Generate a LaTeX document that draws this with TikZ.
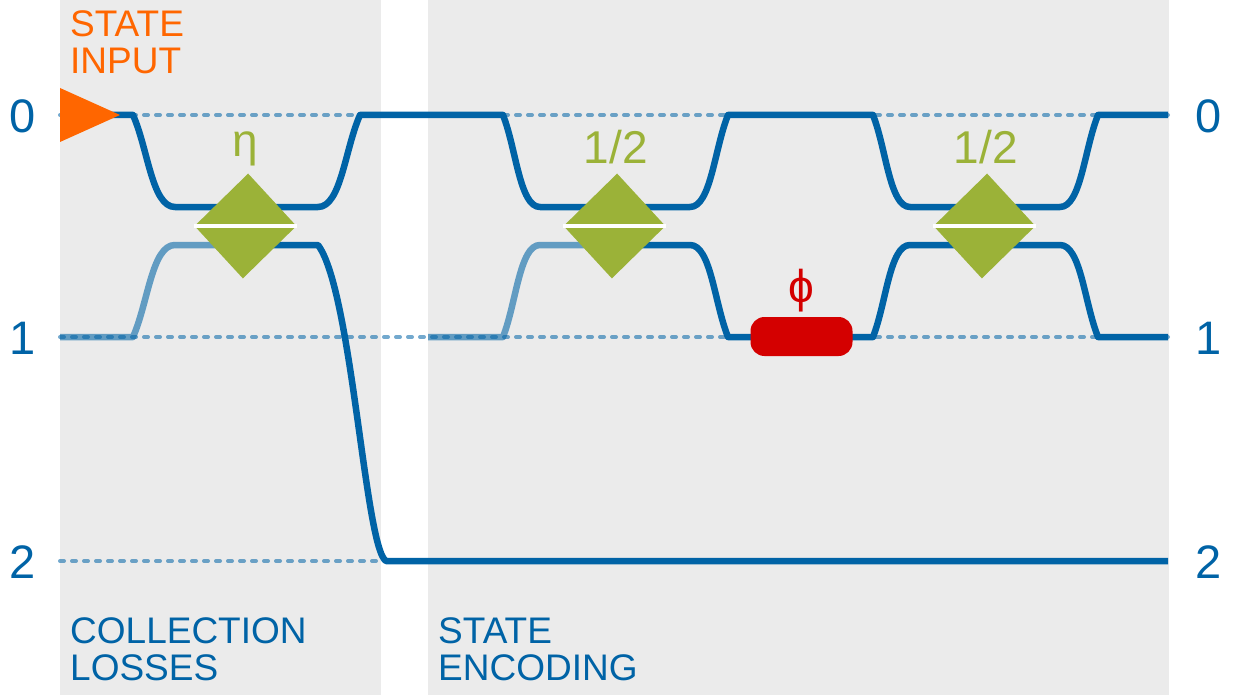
\documentclass[tikz,border=0pt]{standalone}
\usepackage{fontspec}
\setmainfont{Liberation Sans}
\usetikzlibrary{positioning, shapes.geometric, calc}
\definecolor{guideBlue}{HTML}{0063A6}
\definecolor{panelGray}{HTML}{EBEBEB}
\definecolor{couplerGreen}{HTML}{9BB238}
\definecolor{inputOrange}{HTML}{FF6600}
\definecolor{phaseRed}{HTML}{D40000}

\begin{document}
\begin{tikzpicture}[
    x=1pt, y=-1pt,
    node distance=6pt,
    guide/.style={draw=guideBlue, line width=6.5pt, line join=round},
    lightguide/.style={guide, draw opacity=0.58},
    rail/.style={draw=guideBlue, draw opacity=0.55, line width=4pt, line cap=round,
                 dash pattern=on 4pt off 8pt},
    railarm/.style={to path={let \p1=(\tikztostart), \p2=(\tikztotarget) in
        .. controls ({\x1+0.36*(\x2-\x1)},{\y1+0.37*(\y2-\y1)})
        and ({\x1+0.45*(\x2-\x1)},\y2) .. (\p2)}},
    armrail/.style={to path={let \p1=(\tikztostart), \p2=(\tikztotarget) in
        .. controls ({\x2-0.45*(\x2-\x1)},\y1)
        and ({\x2-0.36*(\x2-\x1)},{\y2-0.37*(\y2-\y1)}) .. (\p2)}},
    coupler/.style={diamond, fill=couplerGreen, minimum width=102pt, minimum height=105pt,
                    inner sep=0pt, xslant=0.05, transform shape},
    gap/.style={draw=white, line width=3.5pt},
    panel/.style={fill=panelGray},
    level/.style={text=guideBlue, font=\fontsize{47}{47}\selectfont, inner sep=0pt},
    ratio/.style={text=couplerGreen, font=\fontsize{46}{46}\selectfont, inner sep=0pt},
    caption/.style={text=guideBlue, font=\fontsize{37}{37}\selectfont, align=left,
                    anchor=north west, inner sep=0pt},
    phase/.style={rectangle, rounded corners=14pt, fill=phaseRed, minimum width=102pt,
                  minimum height=39pt, inner sep=0pt},
  ]
    \useasboundingbox (0,0) rectangle (1237,698);

    % panels
    \fill[panel] (60,0) rectangle (381,695);
    \fill[panel] (428,0) rectangle (1169,695);

    % ports of each coupler section
    \foreach \n/\xa/\xb/\xc/\xd in {1/133/175/318/360, 2/503/540/690/728, 3/873/910/1060/1098} {
      \coordinate (up\n a) at (\xa,115);
      \coordinate (up\n b) at (\xb,207);
      \coordinate (up\n c) at (\xc,207);
      \coordinate (up\n d) at (\xd,115);
      \coordinate (lo\n a) at (\xa,337);
      \coordinate (lo\n b) at (\xb,245);
      \coordinate (lo\n c) at (\xc,245);
      \coordinate (lo\n d) at (\xd,337);
    }
    \coordinate (in0) at (60,115);
    \coordinate (in1) at (60,337);
    \coordinate (in2) at (60,561);
    \coordinate (mid1) at (428,337);
    \coordinate (out0) at (1168,115);
    \coordinate (out1) at (1168,337);
    \coordinate (out2) at (1168,561);
    \coordinate (drop) at (386,561);
    \coordinate (mid2) at (245,245);
    \coordinate (mid3) at (614,245);

    % waveguides
    \draw[lightguide] (in1) -- (lo1a) to[railarm] (lo1b) -- (mid2);
    \draw[lightguide] (mid1) -- (lo2a) to[railarm] (lo2b) -- (mid3);
    \draw[guide] (in0) -- (up1a) to[railarm] (up1b) -- (up1c) to[armrail] (up1d)
      -- (up2a) to[railarm] (up2b) -- (up2c) to[armrail] (up2d)
      -- (up3a) to[railarm] (up3b) -- (up3c) to[armrail] (up3d) -- (out0);
    \draw[guide] (mid2) -- (lo1c) .. controls (352,290) and (365,548) .. (drop) -- (out2);
    \draw[guide] (mid3) -- (lo2c) to[armrail] (lo2d) -- (lo3a) to[railarm] (lo3b)
      -- (lo3c) to[armrail] (lo3d) -- (out1);

    % rails
    \draw[rail] (in0) -- (out0);
    \draw[rail] (in1) -- (out1);
    \draw[rail] (in2) -- (drop);

    % couplers
    \node[coupler] (c1) at (245.5,226) {};
    \node[coupler] (c2) at (614.5,226) {};
    \node[coupler] (c3) at (984.5,226) {};
    \foreach \n in {c1,c2,c3}
      \draw[gap] (\n.west) -- (\n.east);
    \node[ratio, above=7pt of c1, xshift=-3pt] (eta) {η};
    \node[ratio, above=9pt of c2, xshift=-1.5pt] (half1) {1/2};
    \node[ratio, above=9pt of c3, xshift=-1.5pt] (half2) {1/2};

    % phase shifter
    \node[phase] (ps) at (801.5,336.5) {};
    \node[text=phaseRed, font=\fontsize{46}{46}\selectfont, inner sep=0pt, above=5pt of ps] (phi) {ϕ};

    % input
    \fill[inputOrange] (60,88) -- (120,115) -- (60,142) -- cycle;
    \node[caption, text=inputOrange] (inlabel) at (70,10) {STATE\\INPUT};

    % levels
    \node[level] (l0) at (22.5,116) {0};
    \node[level] (l1) at (22.5,338) {1};
    \node[level] (l2) at (22.5,562) {2};
    \node[level] (r0) at (1209,116) {0};
    \node[level] (r1) at (1209,338) {1};
    \node[level] (r2) at (1209,562) {2};

    \node[caption] (losses) at (70,617) {COLLECTION\\LOSSES};
    \node[caption] (encoding) at (438,617) {STATE\\ENCODING};
\end{tikzpicture}
\end{document}
